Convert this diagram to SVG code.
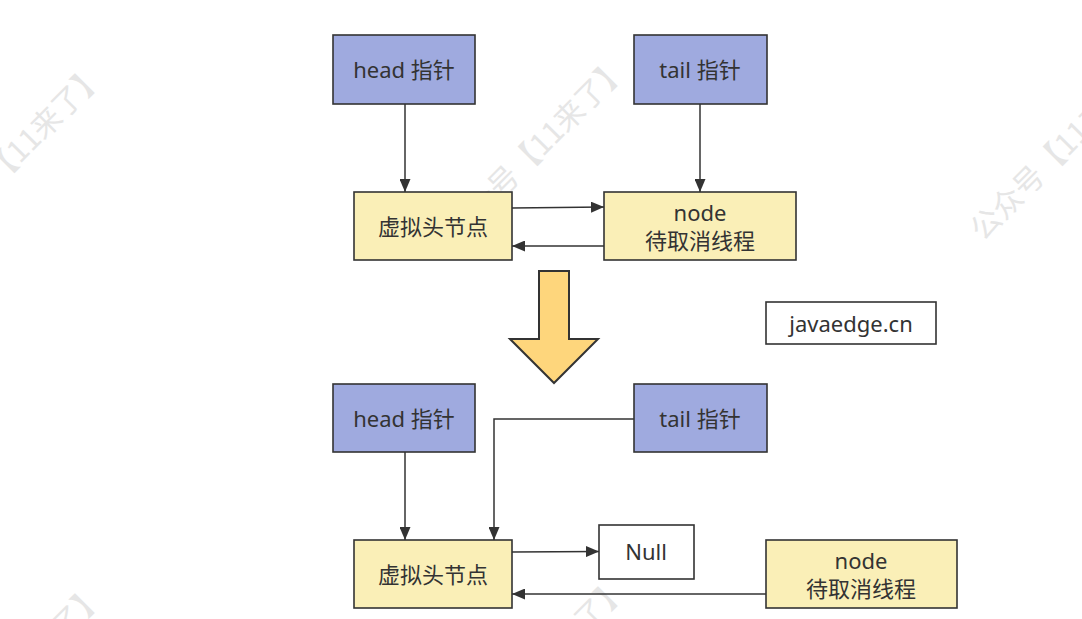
<svg xmlns="http://www.w3.org/2000/svg" width="1082" height="619" viewBox="0 0 1082 619">
<style>
.wm{font-family:"Noto Sans CJK SC","Noto Sans",sans-serif;font-size:30px;fill:#e6e6e6;text-anchor:end}
.blue{fill:#9FAADF;stroke:#333;stroke-width:1.6}
.yel{fill:#FAEFB7;stroke:#333;stroke-width:1.6}
.wht{fill:#fff;stroke:#333;stroke-width:1.6}
.t{font-family:"Noto Sans","Noto Sans CJK SC",sans-serif;font-size:22px;fill:#333;text-anchor:middle;dominant-baseline:central}
.c{fill:none;stroke:#333;stroke-width:1.5;marker-end:url(#ah)}
</style>
<defs>
<marker id="ah" markerUnits="userSpaceOnUse" markerWidth="13" markerHeight="11" refX="13" refY="5.5" orient="auto">
<path d="M0,0 L13,5.5 L0,11 z" fill="#333"/>
</marker>
</defs>
<rect width="1082" height="619" fill="#fff"/>
<g id="watermarks">
<text class="wm" transform="translate(107,77) rotate(-45)">公众号【11来了】</text>
<text class="wm" transform="translate(630,70) rotate(-45)">公众号【11来了】</text>
<text class="wm" transform="translate(1155,70) rotate(-45)">公众号【11来了】</text>
<text class="wm" transform="translate(107,597) rotate(-45)">公众号【11来了】</text>
<text class="wm" transform="translate(630,590) rotate(-45)">公众号【11来了】</text>
</g>
<g id="connectors">
<line class="c" x1="405" y1="104" x2="405" y2="192"/>
<line class="c" x1="700" y1="104" x2="700" y2="192"/>
<line class="c" x1="512" y1="208" x2="604" y2="207"/>
<line class="c" x1="604" y1="246" x2="512" y2="246"/>
<line class="c" x1="405" y1="452" x2="405" y2="540"/>
<polyline class="c" points="634,419 494,419 494,540"/>
<line class="c" x1="512" y1="552" x2="599" y2="551.5"/>
<line class="c" x1="766" y1="594" x2="512" y2="594"/>
</g>
<g id="head1"><rect class="blue" x="333" y="35" width="142" height="69"/><text class="t" x="404" y="69">head 指针</text></g>
<g id="tail1"><rect class="blue" x="634" y="35" width="133" height="69"/><text class="t" x="700" y="69">tail 指针</text></g>
<g id="dummy1"><rect class="yel" x="354" y="192" width="158" height="68"/><text class="t" x="433" y="226">虚拟头节点</text></g>
<g id="node1"><rect class="yel" x="604" y="192" width="192" height="68"/><text class="t" x="700" y="212">node</text><text class="t" x="700" y="240">待取消线程</text></g>
<g id="bigArrow"><path d="M539,271 L569,271 L569,339 L598,339 L554,383 L510,339 L539,339 Z" fill="#FED67C" stroke="#333" stroke-width="2" stroke-linejoin="miter"/></g>
<g id="site"><rect class="wht" x="766" y="302" width="170" height="42"/><text class="t" x="851" y="323">javaedge.cn</text></g>
<g id="head2"><rect class="blue" x="333" y="384" width="142" height="68"/><text class="t" x="404" y="418">head 指针</text></g>
<g id="tail2"><rect class="blue" x="634" y="384" width="133" height="68"/><text class="t" x="700" y="418">tail 指针</text></g>
<g id="dummy2"><rect class="yel" x="354" y="540" width="158" height="68"/><text class="t" x="433" y="574">虚拟头节点</text></g>
<g id="null"><rect class="wht" x="599" y="525" width="95" height="54"/><text class="t" x="646" y="551">Null</text></g>
<g id="node2"><rect class="yel" x="766" y="540" width="191" height="68"/><text class="t" x="861" y="560">node</text><text class="t" x="861" y="588">待取消线程</text></g>
</svg>
